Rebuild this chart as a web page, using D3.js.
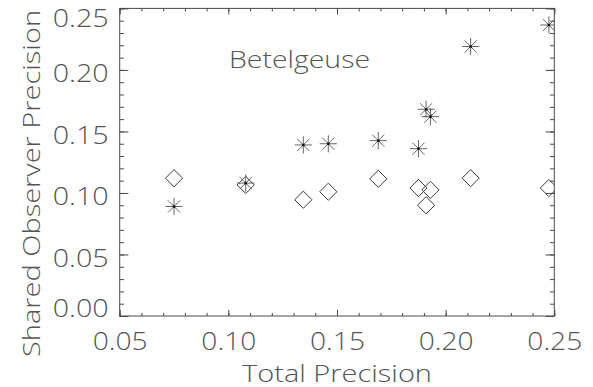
<!DOCTYPE html>
<html>
<head>
<meta charset="utf-8">
<script src="https://cdn.jsdelivr.net/npm/d3@7"></script>
<style>
  html, body { margin: 0; padding: 0; background: #fff; }
  svg { display: block; }
  text { font-family: "Open Sans", "Inter", "DejaVu Sans", sans-serif; font-weight: 300; fill: #555; }
</style>
</head>
<body>
<svg id="chart" width="593" height="387"></svg>
<script>
// Total precision per measurement set (shared x values)
const totalPrecision = [0.075, 0.108, 0.1345, 0.146, 0.169, 0.1875, 0.191, 0.193, 0.2115, 0.2475];
// Shared-observer precision, asterisk series
const sharedAsterisk = [0.089, 0.108, 0.139, 0.140, 0.1425, 0.136, 0.168, 0.162, 0.219, 0.2365];
// Shared-observer precision, diamond series
const sharedDiamond = [0.112, 0.1065, 0.0945, 0.101, 0.1115, 0.104, 0.090, 0.1025, 0.112, 0.104];

const xMajorTicks = [0.05, 0.10, 0.15, 0.20, 0.25];
const yMajorTicks = [0.00, 0.05, 0.10, 0.15, 0.20, 0.25];
const xMinorTicks = d3.range(5, 26).map(d => d / 100);
const yMinorTicks = d3.range(0, 26).map(d => d / 100);

const starName = "Betelgeuse";
const xTitle = "Total Precision";
const yTitle = "Shared Observer Precision";

const svg = d3.select("#chart");
const m = { left: 119.7, right: 554.3, top: 8.4, bottom: 316 };
const W = m.right - m.left, H = m.bottom - m.top;

const x = d3.scaleLinear().domain([0.05, 0.25]).range([m.left, m.right]);
const y = d3.scaleLinear().domain([0.00, 0.25]).range([m.bottom, m.top]);

const axisColor = "#4a4a4a";
const xTick = 0.02 * H, yTick = 0.02 * W;
const fmt = d3.format(".2f");

function styleAxis(g) {
  g.select(".domain").remove();
  g.selectAll("line").attr("stroke", axisColor).attr("stroke-width", 1);
  g.selectAll("text").attr("font-size", 25).attr("fill", "#555")
    .attr("font-family", null);
}

// bottom axis: major ticks with labels, minor ticks
const gxb = svg.append("g").attr("transform", `translate(0,${m.bottom})`)
  .call(d3.axisBottom(x).tickValues(xMajorTicks).tickSizeInner(-xTick).tickSizeOuter(0).tickFormat(fmt));
styleAxis(gxb);
gxb.selectAll("text").attr("y", 34).attr("dy", null).attr("textLength", 55).attr("lengthAdjust", "spacingAndGlyphs");
styleAxis(svg.append("g").attr("transform", `translate(0,${m.bottom})`)
  .call(d3.axisBottom(x).tickValues(xMinorTicks).tickSizeInner(-xTick / 2).tickSizeOuter(0).tickFormat("")));

// top axis: ticks only
styleAxis(svg.append("g").attr("transform", `translate(0,${m.top})`)
  .call(d3.axisTop(x).tickValues(xMajorTicks).tickSizeInner(-xTick).tickSizeOuter(0).tickFormat("")));
styleAxis(svg.append("g").attr("transform", `translate(0,${m.top})`)
  .call(d3.axisTop(x).tickValues(xMinorTicks).tickSizeInner(-xTick / 2).tickSizeOuter(0).tickFormat("")));

// left axis: labels kept inside the vertical extent of the frame
const gyl = svg.append("g").attr("transform", `translate(${m.left},0)`)
  .call(d3.axisLeft(y).tickValues(yMajorTicks).tickSizeInner(-yTick).tickSizeOuter(0).tickPadding(11).tickFormat(fmt));
styleAxis(gyl);
const half = 9.2;
gyl.selectAll("text")
  .attr("dy", null)
  .attr("y", d => {
    const ty = y(d);
    const c = Math.max(m.top + half, Math.min(m.bottom - half, ty + 2.5));
    return c - ty + half;
  })
  .attr("textLength", 56).attr("lengthAdjust", "spacingAndGlyphs");
styleAxis(svg.append("g").attr("transform", `translate(${m.left},0)`)
  .call(d3.axisLeft(y).tickValues(yMinorTicks).tickSizeInner(-yTick / 2).tickSizeOuter(0).tickFormat("")));

// right axis: ticks only
styleAxis(svg.append("g").attr("transform", `translate(${m.right},0)`)
  .call(d3.axisRight(y).tickValues(yMajorTicks).tickSizeInner(-yTick).tickSizeOuter(0).tickFormat("")));
styleAxis(svg.append("g").attr("transform", `translate(${m.right},0)`)
  .call(d3.axisRight(y).tickValues(yMinorTicks).tickSizeInner(-yTick / 2).tickSizeOuter(0).tickFormat("")));

// frame
svg.append("rect").attr("x", m.left).attr("y", m.top).attr("width", W).attr("height", H)
  .attr("fill", "none").attr("stroke", axisColor).attr("stroke-width", 1);

// clip symbols to the plotting region
svg.append("clipPath").attr("id", "plotClip")
  .append("rect").attr("x", m.left).attr("y", m.top).attr("width", W).attr("height", H);
const plot = svg.append("g").attr("clip-path", "url(#plotClip)");

const pts = (ys) => totalPrecision.map((v, i) => ({ x: v, y: ys[i] }));

// diamonds
const dr = 8.6;
plot.selectAll(".diamond").data(pts(sharedDiamond)).join("path")
  .attr("class", "diamond")
  .attr("transform", d => `translate(${x(d.x)},${y(d.y)})`)
  .attr("d", `M0,${-dr}L${dr},0L0,${dr}L${-dr},0Z`)
  .attr("fill", "none").attr("stroke", "#3a3a3a").attr("stroke-width", 1);

// asterisks: eight arms and a dark centre dot
const ar = 8.6, ad = ar * Math.SQRT1_2;
const star = plot.selectAll(".star").data(pts(sharedAsterisk)).join("g")
  .attr("class", "star")
  .attr("transform", d => `translate(${x(d.x)},${y(d.y)})`);
star.append("path")
  .attr("d", `M${-ar},0L${ar},0M0,${-ar}L0,${ar}M${-ad},${-ad}L${ad},${ad}M${-ad},${ad}L${ad},${-ad}`)
  .attr("stroke", "#555").attr("stroke-width", 0.9).attr("fill", "none");
star.append("rect").attr("x", -1.2).attr("y", -1.2).attr("width", 2.4).attr("height", 2.4).attr("fill", "#111");

// annotations and titles
svg.append("text").attr("x", 229).attr("y", 68).attr("font-size", 23)
  .attr("textLength", 141).attr("lengthAdjust", "spacingAndGlyphs").text(starName);
svg.append("text").attr("x", (m.left + m.right) / 2).attr("y", 381.5).attr("font-size", 24)
  .attr("text-anchor", "middle").attr("textLength", 190).attr("lengthAdjust", "spacingAndGlyphs").text(xTitle);
svg.append("text").attr("transform", "translate(40,183.5) rotate(-90)").attr("font-size", 24)
  .attr("text-anchor", "middle").attr("textLength", 347).attr("lengthAdjust", "spacingAndGlyphs").text(yTitle);
</script>
</body>
</html>
